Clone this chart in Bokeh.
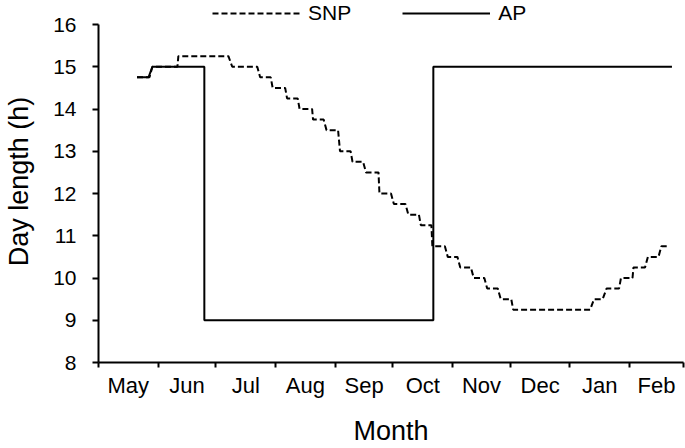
from bokeh.plotting import figure
from bokeh.models import Range1d, FixedTicker, Legend, LegendItem
from bokeh.embed import file_html
from bokeh.resources import INLINE

# Month tick labels and month lengths (days), season starts 1 May
months = ["May", "Jun", "Jul", "Aug", "Sep", "Oct", "Nov", "Dec", "Jan", "Feb"]
month_days = [31, 30, 31, 31, 30, 31, 30, 31, 31, 28]

# AP: artificial photoperiod (day from 1 May, hours)
ap_day = [20, 26, 28, 55, 55, 174, 174, 298]
ap_hours = [14.75, 14.75, 15, 15, 9, 9, 15, 15]

# SNP: simulated natural photoperiod, stepwise (start day, end day, level)
snp_start = [20, 28, 41.5, 69.5, 84, 90.5, 98, 104.5, 111.5, 118.5,
             125.5, 132, 139, 146, 153.5, 161, 167.5, 173.5, 181.5, 188,
             195, 202, 209, 215.5, 257.5, 264, 271.5, 278, 285.5, 292.5]
snp_end = [26.5, 41, 67.5, 82.5, 89.5, 97, 103.5, 111, 117, 124.5,
           131, 137.5, 145.5, 152, 159.5, 166.5, 173, 180, 186.5, 193.5,
           200.5, 207.5, 214.5, 255.5, 262, 270.5, 277.5, 284, 291, 296.5]
snp_level = [14.75, 15, 15.25, 15, 14.75, 14.5, 14.25, 14, 13.75, 13.5,
             13, 12.75, 12.5, 12, 11.75, 11.5, 11.25, 10.75, 10.5, 10.25,
             10, 9.75, 9.5, 9.25, 9.5, 9.75, 10, 10.25, 10.5, 10.75]

y_ticks = [8, 9, 10, 11, 12, 13, 14, 15, 16]

bounds = [0]
for d in month_days:
    bounds.append(bounds[-1] + d)
centers = [(a + b) / 2 for a, b in zip(bounds[:-1], bounds[1:])]

snp_x, snp_y = [], []
for s, e, l in zip(snp_start, snp_end, snp_level):
    snp_x += [s, e]
    snp_y += [l, l]

FONT = "Liberation Sans"

# frame spans the whole top of the canvas (legend lives inside it);
# the axis itself is bounded to 8..16 which occupies the lower 338 px
FRAME_H = 362
AXIS_H = 338
y_lo, y_hi = y_ticks[0], y_ticks[-1]
y_top = y_lo + (y_hi - y_lo) * FRAME_H / AXIS_H

p = figure(width=685, height=448, output_backend="svg", toolbar_location=None,
           x_range=Range1d(0, bounds[-1]), y_range=Range1d(y_lo, y_top),
           min_border_left=98, min_border_right=2, min_border_top=0,
           min_border_bottom=86)
p.xgrid.visible = False
p.ygrid.visible = False
p.outline_line_color = None
p.background_fill_color = "white"
p.border_fill_color = "white"

r_ap = p.line(ap_day, ap_hours, line_color="black", line_width=2)
r_snp = p.line(snp_x, snp_y, line_color="black", line_width=2, line_dash="6 3")

# x axis
xa = p.xaxis[0]
xa.ticker = FixedTicker(ticks=centers, minor_ticks=bounds)
xa.major_label_overrides = {c: m for c, m in zip(centers, months)}
xa.major_tick_line_color = None
xa.major_tick_out = 5
xa.major_tick_in = 0
xa.minor_tick_line_color = "black"
xa.minor_tick_line_width = 2
xa.minor_tick_out = 5
xa.minor_tick_in = 0
xa.axis_line_width = 2
xa.axis_line_color = "black"
xa.major_label_standoff = 5
xa.major_label_text_font = FONT
xa.major_label_text_font_size = "22px"
xa.major_label_text_color = "black"
xa.axis_label = "Month"
xa.axis_label_text_font = FONT
xa.axis_label_text_font_size = "27px"
xa.axis_label_text_font_style = "normal"
xa.axis_label_text_color = "black"
xa.axis_label_standoff = 15

# y axis
ya = p.yaxis[0]
ya.ticker = FixedTicker(ticks=y_ticks)
ya.bounds = (y_lo, y_hi)
ya.minor_tick_line_color = None
ya.major_tick_out = 6
ya.major_tick_in = 0
ya.major_tick_line_width = 2
ya.major_tick_line_color = "black"
ya.axis_line_width = 2
ya.axis_line_color = "black"
ya.major_label_standoff = 16
ya.major_label_text_font = FONT
ya.major_label_text_font_size = "21px"
ya.major_label_text_color = "black"
ya.axis_label = "Day length (h)"
ya.axis_label_text_font = FONT
ya.axis_label_text_font_size = "27px"
ya.axis_label_text_font_style = "normal"
ya.axis_label_text_color = "black"
ya.axis_label_standoff = 16

legend = Legend(items=[LegendItem(label="SNP", renderers=[r_snp]),
                       LegendItem(label="AP", renderers=[r_ap])],
                orientation="horizontal", location=(114, 337),
                glyph_width=88, glyph_height=20, label_standoff=8, spacing=51,
                padding=0, margin=0, border_line_color=None,
                background_fill_alpha=0,
                label_text_font=FONT, label_text_font_size="21px",
                label_text_color="black")
p.add_layout(legend)

open("out.html", "w").write(file_html(p, INLINE))
